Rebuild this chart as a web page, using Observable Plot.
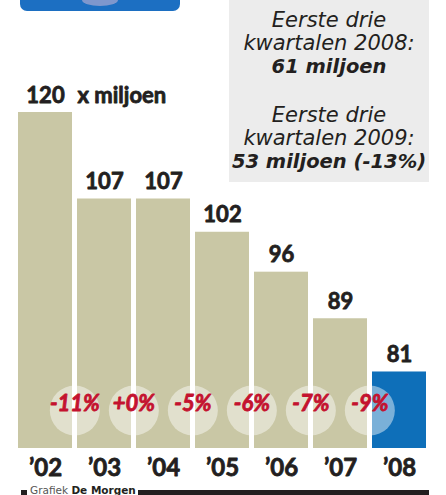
<!DOCTYPE html>
<html>
<head>
<meta charset="utf-8">
<script src="https://cdn.jsdelivr.net/npm/d3@7"></script>
<script src="https://cdn.jsdelivr.net/npm/@observablehq/plot@0.6"></script>
<style>
  body { margin: 0; background: #fff; }
  #wrap { position: relative; width: 446px; height: 495px; overflow: hidden; font-family: "DejaVu Sans", sans-serif; color: #231f20; }
  #chart { position: absolute; left: 0; top: 0; }
  #logo { position: absolute; left: 20px; top: -12px; width: 160px; height: 23px; background: #1c6fc2; border-radius: 7px; overflow: hidden; }
  #logo .spot { position: absolute; left: 62px; top: 6px; width: 36px; height: 12px; border-radius: 50%; background: #e0bfd8; opacity: .5; }
  #box { position: absolute; left: 229px; top: 0; width: 200px; height: 182px; background: #ececec; text-align: center; font-style: italic; }
  #box .para { position: absolute; left: 0; width: 200px; font-size: 21px; line-height: 23px; font-weight: 300; }
  #box b { font-size: 19.5px; font-weight: bold; }
  #footer { position: absolute; left: 21px; top: 484px; width: 408px; display: flex; align-items: flex-start; font-size: 10.5px; line-height: 13px; }
  #footer .sq { width: 6px; height: 8px; background: #231f20; margin-top: 6px; margin-right: 3px; }
  #footer .txt { color: #555; white-space: nowrap; }
  #footer .txt b { color: #231f20; }
  #footer .bar { flex: 1; height: 10px; background: #231f20; margin-top: 6px; margin-left: 2px; }
</style>
</head>
<body>
<div id="wrap">
  <div id="chart"></div>
  <div id="logo"><div class="spot"></div></div>
  <div id="box">
    <div class="para" id="p1"></div>
    <div class="para" id="p2"></div>
  </div>
  <div id="footer"><div class="sq"></div><div class="txt">Grafiek <b>De Morgen</b></div><div class="bar"></div></div>
</div>
<script>
// ---- data ----
const years = ["’02", "’03", "’04", "’05", "’06", "’07", "’08"];
const values = [120, 107, 107, 102, 96, 89, 81];
const changes = ["-11%", "+0%", "-5%", "-6%", "-7%", "-9%"];
const unitLabel = "x miljoen";
const note1 = ["Eerste drie", "kwartalen 2008:"];
const note1Bold = "61 miljoen";
const note2 = ["Eerste drie", "kwartalen 2009:"];
const note2Bold = "53 miljoen (-13%)";

// ---- styles ----
const khaki = "#c9c7a5";
const blue = "#0e6fb9";
const red = "#c4122f";
const ink = "#231f20";
const font = "Lato, sans-serif";

const data = years.map((year, i) => ({year, value: values[i]}));
const changeData = changes.map((label, i) => ({label, year: years[i + 1]}));

const W = 446, H = 486, mL = 17, mR = 19, mT = 112, mB = 38;
const xOpts = {type: "band", domain: years, paddingInner: 0.09, paddingOuter: 0, range: [mL, W - mR]};
const xs = Plot.scale({x: xOpts});
const step = xs.step ?? ((W - mL - mR) / (years.length - 0.09));

const boldText = (color) => ({fill: color, stroke: color, strokeWidth: 0.8, fontWeight: "bold"});

const chart = Plot.plot({
  width: W,
  height: H,
  marginLeft: mL,
  marginRight: mR,
  marginTop: mT,
  marginBottom: mB,
  style: {fontFamily: font, color: ink, background: "transparent", overflow: "visible"},
  x: {...xOpts, axis: null},
  y: {domain: [69.5, 120], axis: null},
  marks: [
    Plot.barY(data, {x: "year", y: "value", fill: d => d.year === years[years.length - 1] ? blue : khaki, clip: true}),
    Plot.dot(changeData, {x: "year", frameAnchor: "bottom", dx: -step / 2, dy: -38, r: 25, fill: "#fff", fillOpacity: 0.45, stroke: "none"}),
    Plot.text(changeData, {x: "year", text: "label", frameAnchor: "bottom", dx: -step / 2, dy: -38, fontSize: 22, fontStyle: "italic", ...boldText(red)}),
    Plot.text(data, {x: "year", y: "value", text: d => String(d.value), dy: -10, lineAnchor: "bottom", fontSize: 22, ...boldText(ink)}),
    Plot.text([unitLabel], {x: [years[0]], y: [values[0]], text: d => d, dx: 32, dy: -10, textAnchor: "start", lineAnchor: "bottom", fontSize: 22, ...boldText(ink)}),
    Plot.text(data, {x: "year", text: "year", frameAnchor: "bottom", dy: 27, lineAnchor: "bottom", fontSize: 24, ...boldText(ink)})
  ]
});
document.getElementById("chart").appendChild(chart);

function fill(el, lines, bold, top) {
  el.style.top = top + "px";
  el.innerHTML = lines.map(l => `<div>${l}</div>`).join("") + `<div><b>${bold}</b></div>`;
}
fill(document.getElementById("p1"), note1, note1Bold, 9);
fill(document.getElementById("p2"), note2, note2Bold, 104);
</script>
</body>
</html>
